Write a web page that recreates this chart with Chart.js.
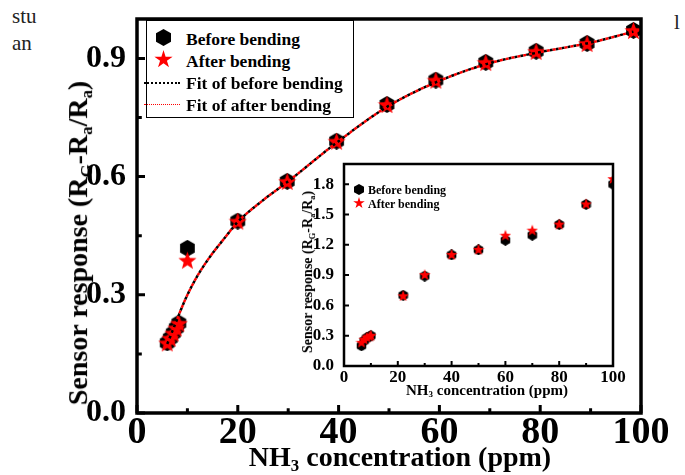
<!DOCTYPE html>
<html>
<head>
<meta charset="utf-8">
<script src="https://cdn.jsdelivr.net/npm/chart.js@4.4.0/dist/chart.umd.min.js"></script>
<style>
  body { margin:0; background:#fff; font-family:"Liberation Serif", serif; }
  #wrap { position:relative; width:685px; height:475px; overflow:hidden; }
  canvas { position:absolute; }
  .t { position:absolute; font-weight:bold; color:#000; white-space:nowrap; line-height:1; }
  .rot { transform:translate(-50%,-50%) rotate(-90deg); }
  .ctr { transform:translate(-50%,-50%); }
  sub { font-size:0.6em; vertical-align:-0.3em; }
  .stray { position:absolute; font-size:21px; color:#222; overflow:hidden; white-space:nowrap; }
  #legend { position:absolute; left:146px; top:20px; width:208px; height:98px; border:1.5px solid #000; background:#fff; box-sizing:border-box; }
  .row { position:absolute; left:0; height:20px; }
  .row span { position:absolute; left:39px; top:1px; font-size:17.5px; font-weight:bold; white-space:nowrap; }
  .hex { position:absolute; background:#000; clip-path:polygon(50% 0,100% 25%,100% 75%,50% 100%,0 75%,0 25%); }
  .star { position:absolute; background:#f00; clip-path:polygon(50% 0,61% 35%,98% 35%,68% 57%,79% 91%,50% 70%,21% 91%,32% 57%,2% 35%,39% 35%); }
  .dots { position:absolute; height:0; border-top:2px dotted #000; }
</style>
</head>
<body>
<div id="wrap">
  <div class="stray" style="left:12px;top:4px;width:33px;">stu</div>
  <div class="stray" style="left:12px;top:31px;">an</div>
  <div class="stray" style="left:674px;top:10px;">l</div>

  <canvas id="main" width="685" height="475" style="left:0;top:0"></canvas>
  <canvas id="inset" width="340" height="240" style="left:290px;top:150px"></canvas>

  <div class="t rot" style="left:80px;top:243px;font-size:28px;">Sensor response (R<sub>G</sub>-R<sub>a</sub>/R<sub>a</sub>)</div>
  <div class="t ctr" style="left:400px;top:459px;font-size:28px;">NH<sub>3</sub> concentration (ppm)</div>

  <div id="legend">
    <div class="row" style="top:7px;"><div class="hex" style="left:9px;top:1px;width:15px;height:17px;"></div><span>Before bending</span></div>
    <div class="row" style="top:29px;"><div class="star" style="left:7px;top:0px;width:19px;height:19px;"></div><span>After bending</span></div>
    <div class="row" style="top:51px;"><div class="dots" style="left:-3px;top:10px;width:36px;"></div><span>Fit of before bending</span></div>
    <div class="row" style="top:73px;"><div class="dots" style="left:-3px;top:10px;width:36px;border-top-color:#f00;border-top-width:1.5px;"></div><span>Fit of after bending</span></div>
  </div>

  <div class="hex" style="left:354px;top:184px;width:10px;height:11px;"></div>
  <div class="t" style="left:368px;top:184px;font-size:12px;">Before bending</div>
  <div class="star" style="left:353px;top:197px;width:12px;height:12px;"></div>
  <div class="t" style="left:368px;top:198px;font-size:12px;">After bending</div>

  <div class="t rot" style="left:309px;top:272px;font-size:14px;">Sensor response (R<sub>G</sub>-R<sub>a</sub>/R<sub>a</sub>)</div>
  <div class="t ctr" style="left:487px;top:391px;font-size:15px;">NH<sub>3</sub> concentration (ppm)</div>
</div>

<script>
// main plot
var conc = [6, 6.6, 7.2, 7.8, 8.3, 10, 20, 29.8, 39.6, 49.6, 59.3, 69.2, 79.2, 89.3, 98.5];
var beforeResp = [0.178, 0.19, 0.203, 0.216, 0.228, 0.418, 0.487, 0.588, 0.69, 0.783, 0.845, 0.89, 0.918, 0.938, 0.971];
var afterResp = [0.178, 0.19, 0.203, 0.216, 0.228, 0.388, 0.487, 0.588, 0.69, 0.783, 0.845, 0.89, 0.918, 0.938, 0.971];

var fitConc = [6, 7.5, 9.5, 11.5, 14, 17.5, 20, 25, 30, 40, 50, 60, 70, 80, 90, 98.5];
var fitBefore = [0.175, 0.223, 0.286, 0.337, 0.388, 0.446, 0.485, 0.54, 0.588, 0.69, 0.78, 0.843, 0.888, 0.916, 0.94, 0.968];
var fitAfter = [0.175, 0.223, 0.286, 0.337, 0.388, 0.446, 0.485, 0.54, 0.588, 0.69, 0.78, 0.843, 0.888, 0.916, 0.94, 0.968];

var xTicks = [0, 20, 40, 60, 80, 100];
var xMinor = [10, 30, 50, 70, 90];
var yTicks = [0, 0.3, 0.6, 0.9];
var yMinor = [0.15, 0.45, 0.75];

// inset
var inConcBefore = [6.5, 7.5, 8.5, 9.5, 10, 22, 30, 40, 50, 60, 70, 80, 90, 100];
var inBefore = [0.2, 0.25, 0.28, 0.29, 0.3, 0.7, 0.89, 1.1, 1.15, 1.245, 1.295, 1.4, 1.6, 1.8];
var inConcAfter = [6.5, 7.5, 8.5, 9.5, 10, 22, 30, 40, 50, 60, 70, 80, 90, 100];
var inAfter = [0.24, 0.27, 0.29, 0.3, 0.31, 0.7, 0.91, 1.11, 1.16, 1.3, 1.35, 1.41, 1.61, 1.86];

var inXTicks = [0, 20, 40, 60, 80, 100];
var inXMinor = [10, 30, 50, 70, 90];
var inYTicks = [0, 0.3, 0.6, 0.9, 1.2, 1.5, 1.8];
var inYMinor = [];

function pts(xs, ys){
	return xs.map(function(x, i){ return {x: x, y: ys[i]}; });
}

function hexImg(d, color){
	var c = document.createElement('canvas');
	c.width = d; c.height = d;
	var g = c.getContext('2d');
	var r = d / 2;
	g.fillStyle = color;
	g.beginPath();
	for(var i=0; i<6; i++){
		var a = -Math.PI/2 + i*Math.PI/3;
		var px = r + r*Math.cos(a), py = r + r*Math.sin(a);
		if(i) g.lineTo(px, py); else g.moveTo(px, py);
	}
	g.closePath();
	g.fill();
	return c;
}

function starImg(d, color){
	var c = document.createElement('canvas');
	c.width = d; c.height = d;
	var g = c.getContext('2d');
	var R = d / 2, r = R * 0.42;
	g.fillStyle = color;
	g.beginPath();
	for(var i=0; i<10; i++){
		var a = -Math.PI/2 + i*Math.PI/5;
		var rr = i % 2 ? r : R;
		var px = R + rr*Math.cos(a), py = R + 1 + rr*Math.sin(a);
		if(i) g.lineTo(px, py); else g.moveTo(px, py);
	}
	g.closePath();
	g.fill();
	return c;
}

// box + inward ticks
var framePlugin = {
	id: 'frame',
	afterDraw: function(chart, args, o){
		var ctx = chart.ctx, a = chart.chartArea;
		var sx = chart.scales.x, sy = chart.scales.y;
		ctx.save();
		ctx.strokeStyle = '#000';
		ctx.lineWidth = o.width;
		ctx.beginPath();
		o.xMajor.forEach(function(v){ var p = sx.getPixelForValue(v); ctx.moveTo(p, a.bottom); ctx.lineTo(p, a.bottom - o.len); });
		o.xMinor.forEach(function(v){ var p = sx.getPixelForValue(v); ctx.moveTo(p, a.bottom); ctx.lineTo(p, a.bottom - o.len*0.6); });
		o.yMajor.forEach(function(v){ var p = sy.getPixelForValue(v); ctx.moveTo(a.left, p); ctx.lineTo(a.left + o.len, p); });
		o.yMinor.forEach(function(v){ var p = sy.getPixelForValue(v); ctx.moveTo(a.left, p); ctx.lineTo(a.left + o.len*0.6, p); });
		ctx.stroke();
		ctx.lineWidth = o.box;
		ctx.strokeRect(a.left, a.top, a.right - a.left, a.bottom - a.top);
		ctx.restore();
	}
};

var xFont = {family: 'Liberation Serif', weight: 'bold', size: 38, lineHeight: 1};
var yFont = {family: 'Liberation Serif', weight: 'bold', size: 32, lineHeight: 1};

var mainChart = new Chart(document.getElementById('main'), {
	type: 'scatter',
	plugins: [framePlugin],
	data: {
		datasets: [{
			label: 'Fit of after bending',
			data: pts(fitConc, fitAfter),
			showLine: true, pointRadius: 0,
			borderColor: '#ff0000', borderWidth: 2.5,
			borderDash: [3, 3], borderDashOffset: 3,
			cubicInterpolationMode: 'monotone',
			order: 0
		}, {
			label: 'Fit of before bending',
			data: pts(fitConc, fitBefore),
			showLine: true, pointRadius: 0,
			borderColor: '#000', borderWidth: 2.5,
			borderDash: [3, 3],
			cubicInterpolationMode: 'monotone',
			order: 1
		}, {
			label: 'After bending',
			data: pts(conc, afterResp),
			pointStyle: starImg(19, '#ff0000'),
			order: 2
		}, {
			label: 'Before bending',
			data: pts(conc, beforeResp),
			pointStyle: hexImg(17, '#000'),
			order: 3
		}]
	},
	options: {
		responsive: false,
		animation: false,
		layout: {padding: {left: 0, right: 44, top: 18, bottom: 0}},
		plugins: {
			legend: {display: false},
			tooltip: {enabled: false},
			frame: {xMajor: xTicks, xMinor: xMinor, yMajor: yTicks, yMinor: yMinor, len: 8, width: 3, box: 3.5}
		},
		scales: {
			x: {
				min: 0, max: 100,
				grid: {display: false}, border: {display: false},
				afterBuildTicks: function(s){ s.ticks = xTicks.map(function(v){ return {value: v}; }); },
				afterFit: function(s){ s.height = 62; },
				ticks: {color: '#000', font: xFont, padding: -7, maxRotation: 0}
			},
			y: {
				min: 0, max: 1.0,
				grid: {display: false}, border: {display: false},
				afterBuildTicks: function(s){ s.ticks = yTicks.map(function(v){ return {value: v}; }); },
				afterFit: function(s){ s.width = 137; },
				ticks: {color: '#000', font: yFont, padding: 3, callback: function(v){ return v.toFixed(1); }}
			}
		}
	}
});

var inFont = {family: 'Liberation Serif', weight: 'bold', size: 17, lineHeight: 1};

var insetChart = new Chart(document.getElementById('inset'), {
	type: 'scatter',
	plugins: [framePlugin],
	data: {
		datasets: [{
			label: 'After bending',
			data: pts(inConcAfter, inAfter),
			pointStyle: starImg(12, '#ff0000'),
			order: 0
		}, {
			label: 'Before bending',
			data: pts(inConcBefore, inBefore),
			pointStyle: hexImg(11, '#000'),
			order: 1
		}]
	},
	options: {
		responsive: false,
		animation: false,
		layout: {padding: {left: 0, right: 17, top: 14, bottom: 0}},
		plugins: {
			legend: {display: false},
			tooltip: {enabled: false},
			frame: {xMajor: inXTicks, xMinor: inXMinor, yMajor: inYTicks, yMinor: inYMinor, len: 5, width: 2, box: 2.5}
		},
		scales: {
			x: {
				min: 0, max: 100,
				grid: {display: false}, border: {display: false},
				afterBuildTicks: function(s){ s.ticks = inXTicks.map(function(v){ return {value: v}; }); },
				afterFit: function(s){ s.height = 24; },
				ticks: {color: '#000', font: inFont, padding: -5, maxRotation: 0}
			},
			y: {
				min: 0, max: 2.0,
				grid: {display: false}, border: {display: false},
				afterBuildTicks: function(s){ s.ticks = inYTicks.map(function(v){ return {value: v}; }); },
				afterFit: function(s){ s.width = 54; },
				ticks: {color: '#000', font: inFont, padding: 2, callback: function(v){ return v.toFixed(1); }}
			}
		}
	}
});
</script>
</body>
</html>
